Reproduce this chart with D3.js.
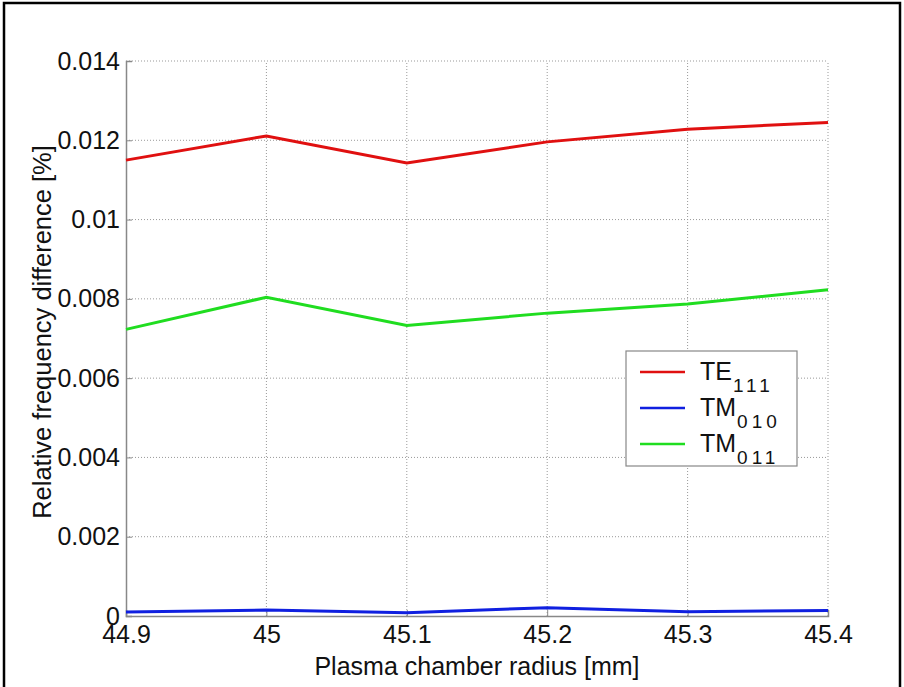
<!DOCTYPE html>
<html>
<head>
<meta charset="utf-8">
<script src="https://cdn.jsdelivr.net/npm/d3@7"></script>
<style>
  body { margin: 0; background: #fff; }
  text { font-family: "Liberation Sans", Arial, sans-serif; fill: #111; }
</style>
</head>
<body>
<div id="chart"></div>
<script>
// data
var radius = [44.9, 45.0, 45.1, 45.2, 45.3, 45.4]
var te111 = [0.01150, 0.01211, 0.01143, 0.01196, 0.01228, 0.01245]
var tm010 = [0.00010, 0.00015, 0.00008, 0.00021, 0.00011, 0.00014]
var tm011 = [0.00723, 0.00804, 0.00733, 0.00764, 0.00787, 0.00823]
var xTicks = [44.9, 45, 45.1, 45.2, 45.3, 45.4]
var yTicks = [0, 0.002, 0.004, 0.006, 0.008, 0.01, 0.012, 0.014]
var seriesNames = ['TE', 'TM', 'TM']
var seriesSubs = ['111', '010', '011']
var seriesColors = ['#e01010', '#1020e0', '#20dd20']

var width = 904, height = 687
var margin = {top: 61, right: 76, bottom: 72, left: 126}

var svg = d3.select('#chart').append('svg')
  .attr('width', width)
  .attr('height', height)

// outer frame
svg.append('rect')
  .attr('x', 4).attr('y', 3)
  .attr('width', 896).attr('height', 700)
  .attr('fill', 'none')
  .attr('stroke', '#000')
  .attr('stroke-width', 2.5)

var x = d3.scaleLinear().domain([44.9, 45.4]).range([margin.left, width - margin.right])
var y = d3.scaleLinear().domain([0, 0.014]).range([height - margin.bottom + 1, margin.top])

// dotted grid
svg.append('g').selectAll('line.gx')
  .data(xTicks.slice(1))
  .enter().append('line')
    .attr('x1', function(d) { return x(d) }).attr('x2', function(d) { return x(d) })
    .attr('y1', y(0)).attr('y2', y(0.014))
    .attr('stroke', '#999').attr('stroke-dasharray', '1,2')
svg.append('g').selectAll('line.gy')
  .data(yTicks.slice(1))
  .enter().append('line')
    .attr('x1', x(44.9)).attr('x2', x(45.4))
    .attr('y1', function(d) { return y(d) }).attr('y2', function(d) { return y(d) })
    .attr('stroke', '#999').attr('stroke-dasharray', '1,2')

// axes
var fmtY = function(d) { return d === 0 ? '0' : String(+d.toFixed(3)) }
var gy = svg.append('g')
  .attr('transform', 'translate(' + x(44.9) + ',0)')
  .call(d3.axisLeft(y).tickValues(yTicks).tickFormat(fmtY).tickSize(-6).tickPadding(8))
var gx = svg.append('g')
  .attr('transform', 'translate(0,' + y(0) + ')')
  .call(d3.axisBottom(x).tickValues(xTicks).tickFormat(function(d) { return String(+d.toFixed(1)) }).tickSize(-6).tickPadding(8))

;[gx, gy].forEach(function(g) {
  g.select('.domain').attr('stroke', '#888').attr('stroke-width', 1.5)
  g.selectAll('.tick line').attr('stroke', '#888')
  g.selectAll('.tick text').style('font-size', '25px').attr('fill', '#111')
})
gx.selectAll('.tick text').attr('dy', '0.75em')
gy.selectAll('.tick text').attr('dx', '2px')

// series
var line = d3.line()
  .x(function(d, i) { return x(radius[i]) })
  .y(function(d) { return y(d) })

;[te111, tm010, tm011].forEach(function(vals, k) {
  svg.append('path')
    .attr('d', line(vals))
    .attr('fill', 'none')
    .attr('stroke', seriesColors[k])
    .attr('stroke-width', 3)
})

// axis titles
svg.append('text')
  .attr('x', (x(44.9) + x(45.4)) / 2)
  .attr('y', 675)
  .attr('text-anchor', 'middle')
  .style('font-size', '25px')
  .text('Plasma chamber radius [mm]')

svg.append('text')
  .attr('transform', 'translate(51,332) rotate(-90)')
  .attr('text-anchor', 'middle')
  .style('font-size', '25.5px')
  .text('Relative frequency difference [%]')

// legend
var lg = svg.append('g')
lg.append('rect')
  .attr('x', 626).attr('y', 351)
  .attr('width', 171).attr('height', 115)
  .attr('fill', '#fff')
  .attr('stroke', '#888')
  .attr('stroke-width', 1.2)

seriesNames.forEach(function(name, k) {
  var ly = 372 + k * 36
  lg.append('line')
    .attr('x1', 640).attr('x2', 685)
    .attr('y1', ly).attr('y2', ly)
    .attr('stroke', seriesColors[k])
    .attr('stroke-width', 2.5)
  var t = lg.append('text')
    .attr('x', 700).attr('y', ly + 8)
    .style('font-size', '25px')
  t.append('tspan').text(name)
  t.append('tspan')
    .attr('dy', 12)
    .attr('dx', 1)
    .style('font-size', '19px')
    .style('letter-spacing', '4px')
    .text(seriesSubs[k])
})
</script>
</body>
</html>
